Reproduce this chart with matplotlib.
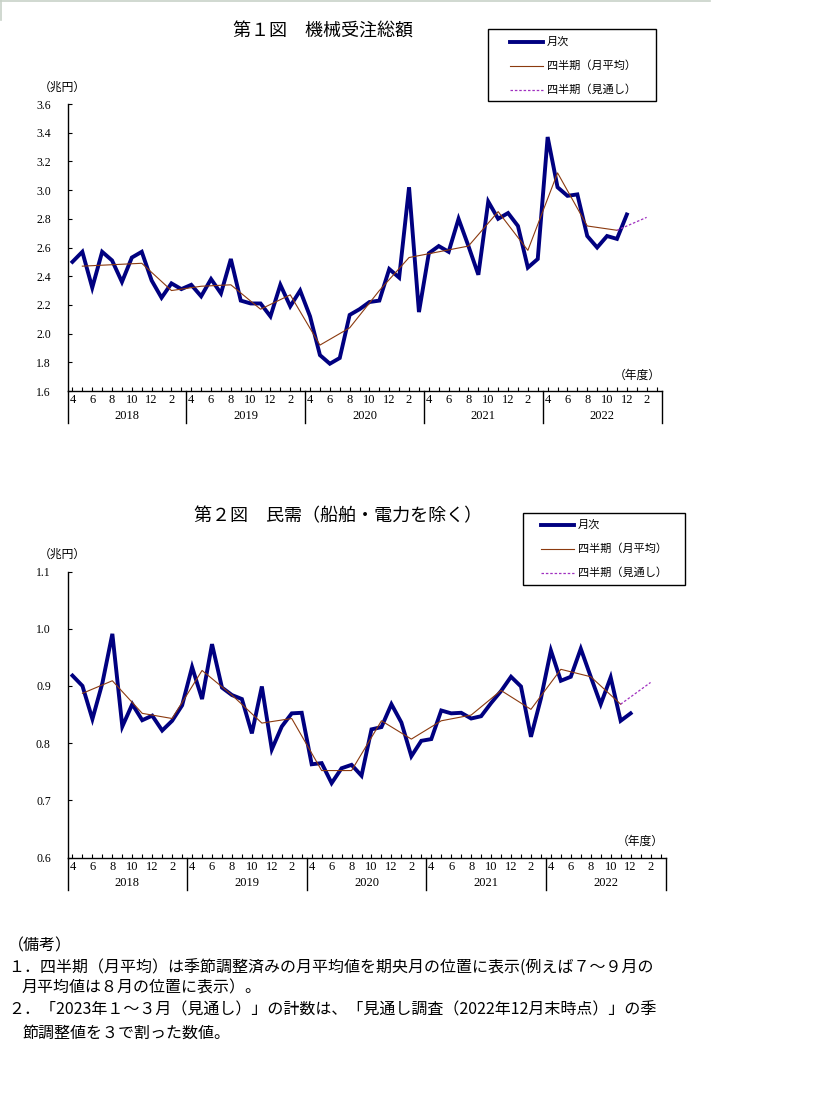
import matplotlib
matplotlib.use("Agg")
import matplotlib.pyplot as plt
import matplotlib.transforms as mtransforms
from matplotlib.lines import Line2D

plt.rcParams['font.family'] = ['Noto Sans CJK JP', 'DejaVu Sans']

# months: index 0 = Apr 2018 ... 59 = Mar 2023
years = ["2018", "2019", "2020", "2021", "2022"]
month_labels = ["4", "6", "8", "10", "12", "2"]

# 第１図 機械受注総額 (兆円)
total_monthly = [2.50, 2.57, 2.32, 2.57, 2.51, 2.36, 2.53, 2.57, 2.37, 2.25, 2.35, 2.31,
                 2.34, 2.26, 2.38, 2.28, 2.52, 2.23, 2.21, 2.21, 2.12, 2.34, 2.19, 2.30,
                 2.12, 1.85, 1.79, 1.83, 2.13, 2.17, 2.22, 2.23, 2.45, 2.39, 3.02, 2.15,
                 2.56, 2.61, 2.57, 2.80, 2.61, 2.41, 2.92, 2.80, 2.84, 2.75, 2.46, 2.52,
                 3.37, 3.02, 2.96, 2.97, 2.68, 2.60, 2.68, 2.66, 2.83]
total_quarterly = [2.47, 2.48, 2.49, 2.30, 2.33, 2.34, 2.17, 2.27, 1.92, 2.04,
                   2.30, 2.53, 2.57, 2.61, 2.85, 2.58, 3.12, 2.75, 2.72]
total_forecast = [2.72, 2.81]

# 第２図 民需（船舶・電力を除く） (兆円)
private_monthly = [0.918, 0.900, 0.842, 0.905, 0.991, 0.829, 0.868, 0.840, 0.848, 0.822, 0.839, 0.866,
                   0.933, 0.877, 0.973, 0.897, 0.884, 0.877, 0.817, 0.899, 0.789, 0.829, 0.852, 0.853,
                   0.763, 0.765, 0.730, 0.756, 0.762, 0.743, 0.824, 0.828, 0.868, 0.836, 0.777, 0.804,
                   0.807, 0.857, 0.852, 0.853, 0.843, 0.847, 0.870, 0.891, 0.916, 0.899, 0.811, 0.878,
                   0.962, 0.909, 0.916, 0.965, 0.916, 0.868, 0.915, 0.839, 0.852]
private_quarterly = [0.887, 0.909, 0.852, 0.843, 0.927, 0.884, 0.835, 0.843, 0.752, 0.752,
                     0.839, 0.807, 0.839, 0.849, 0.892, 0.859, 0.929, 0.916, 0.868]
private_forecast = [0.868, 0.906]

NAVY = "#000080"
BROWN = "#8B3A0F"
PURPLE = "#A030C0"

W, H = 819, 1099
fig = plt.figure(figsize=(W / 100, H / 100), dpi=100)


def px_axes(left, right, top, bottom):
    return fig.add_axes([left / W, 1 - bottom / H, (right - left) / W, (bottom - top) / H])


def draw_chart(ax, monthly, quarterly, forecast, ylim, yticks, fmt):
    xm = list(range(len(monthly)))
    xq = list(range(1, 3 * len(quarterly), 3))
    xf = [xq[-1], xq[-1] + 3]
    ax.plot(xm, monthly, color=NAVY, lw=2.8, solid_joinstyle="miter", zorder=3)
    ax.plot(xq, quarterly, color=BROWN, lw=0.8, zorder=4)
    ax.plot(xf, forecast, color=PURPLE, lw=0.9, ls=(0, (2, 1.5)), zorder=4)
    ax.set_xlim(-0.5, 59.5)
    ax.set_ylim(*ylim)
    ax.set_yticks(yticks)
    ax.set_yticklabels([fmt.format(v) for v in yticks], family="Liberation Serif", fontsize=8.5)
    ax.set_xticks(range(60))
    ax.set_xticklabels([])
    ax.tick_params(axis="both", direction="in", length=3, width=0.8, pad=12)
    for s in ["top", "right"]:
        ax.spines[s].set_visible(False)
    for s in ["left", "bottom"]:
        ax.spines[s].set_linewidth(1.0)
    tr = mtransforms.blended_transform_factory(ax.transData, ax.transAxes)
    hpx = ax.get_position().height * H
    for i in range(0, 60, 2):
        ax.text(i, -9 / hpx, month_labels[(i % 12) // 2], transform=tr, ha="center", va="center",
                family="Liberation Serif", fontsize=9)
    for k, yr in enumerate(years):
        ax.text(12 * k + 5.5, -25 / hpx, yr, transform=tr, ha="center", va="center",
                family="Liberation Serif", fontsize=9)
    for k in range(6):
        ax.plot([12 * k - 0.5, 12 * k - 0.5], [0, -32 / hpx], transform=tr, color="black",
                lw=1.0, clip_on=False)
    ax.text(-1.0, 1 + 17 / hpx, "（兆円）", transform=tr, ha="center", va="center", fontsize=8.5)
    ax.text(57.0, 16 / hpx, "（年度）", transform=tr, ha="center", va="center", fontsize=8.5)


def draw_legend(left, top, right, bottom, x0, x1, tx, ys):
    fig.patches.append(plt.Rectangle((left / W, 1 - bottom / H), (right - left) / W, (bottom - top) / H,
                                     transform=fig.transFigure, fill=False, ec="black", lw=1.0))
    styles = [dict(color=NAVY, lw=2.8), dict(color=BROWN, lw=0.8), dict(color=PURPLE, lw=0.9, ls=(0, (2, 1.5)))]
    texts = ["月次", "四半期（月平均）", "四半期（見通し）"]
    for y, st, t in zip(ys, styles, texts):
        fig.add_artist(Line2D([x0 / W, x1 / W], [1 - y / H, 1 - y / H], transform=fig.transFigure, **st))
        fig.text(tx / W, 1 - y / H, t, ha="left", va="center", fontsize=8)


# chart 1
ax1 = px_axes(67.5, 661.5, 104, 391)
draw_chart(ax1, total_monthly, total_quarterly, total_forecast, (1.6, 3.6),
           [1.6 + 0.2 * i for i in range(11)], "{:.1f}")
fig.text(323 / W, 1 - 32 / H, "第１図　機械受注総額", ha="center", va="center", fontsize=13)
draw_legend(488, 29, 656, 101, 510, 543, 547, [42, 66, 90])

# chart 2
ax2 = px_axes(67.5, 665.5, 571.5, 857.5)
draw_chart(ax2, private_monthly, private_quarterly, private_forecast, (0.6, 1.1),
           [0.6 + 0.1 * i for i in range(6)], "{:.1f}")
fig.text(338 / W, 1 - 516 / H, "第２図　民需（船舶・電力を除く）", ha="center", va="center", fontsize=13)
draw_legend(523, 513, 685, 585, 541, 574, 578, [525, 549, 573])

# notes
notes = [
    (8, 946, "（備考）"),
    (8, 968, "１．四半期（月平均）は季節調整済みの月平均値を期央月の位置に表示(例えば７～９月の"),
    (22, 988, "月平均値は８月の位置に表示）。"),
    (8, 1010, "２．「2023年１～３月（見通し）」の計数は、「見通し調査（2022年12月末時点）」の季"),
    (22, 1033, "節調整値を３で割った数値。"),
]
for x, y, t in notes:
    fig.text(x / W, 1 - y / H, t, ha="left", va="center", fontsize=11.5)

# page frame remnants
fig.add_artist(Line2D([0, 710 / W], [1 - 0.5 / H, 1 - 0.5 / H], transform=fig.transFigure,
                      color="#c8d2c8", lw=1.2))
fig.add_artist(Line2D([0.5 / W, 0.5 / W], [1, 1 - 20 / H], transform=fig.transFigure,
                      color="#c8d2c8", lw=1.2))

fig.savefig("out.png", dpi=100)
